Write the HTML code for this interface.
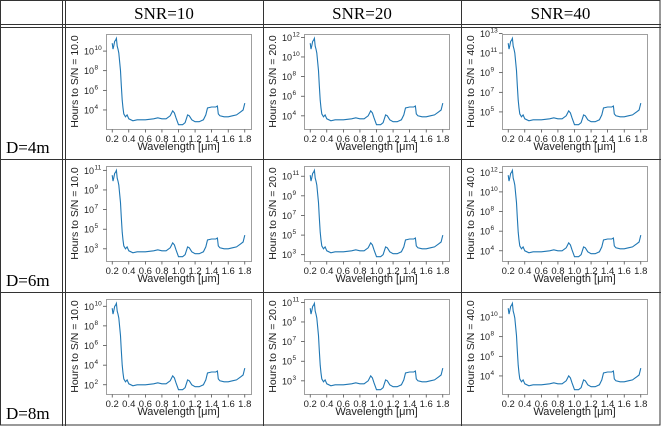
<!DOCTYPE html>
<html><head><meta charset="utf-8">
<style>
html,body{margin:0;padding:0;background:#fff;}
#wrap{position:relative;width:661px;height:426px;overflow:hidden;}
svg{position:absolute;left:0;top:0;}
</style></head>
<body>
<div id="wrap">
<svg id="s" width="661" height="426" xmlns="http://www.w3.org/2000/svg"></svg>
</div>
<script>
const wavelengths=[0.20,0.21,0.22,0.23,0.24,0.25,0.26,0.27,0.28,0.30,0.31,0.32,0.33,0.34,0.36,0.38,0.40,0.45,0.5,0.6,0.7,0.75,0.8,0.85,0.9,0.93,0.95,0.97,1.0,1.05,1.08,1.11,1.13,1.16,1.2,1.25,1.3,1.33,1.35,1.4,1.45,1.47,1.48,1.5,1.55,1.6,1.65,1.7,1.75,1.78,1.8];
const logHours=[10.8,10.2,10.6,11.0,11.1,11.3,10.5,10.2,9.8,8.0,6.5,5.0,4.2,3.6,3.3,3.5,3.1,2.9,3.0,3.0,3.1,3.2,3.1,3.1,3.4,3.9,3.7,3.2,2.5,2.5,2.7,3.5,3.4,3.0,2.8,2.8,3.0,3.5,4.2,4.3,4.3,4.4,3.6,3.4,3.3,3.3,3.4,3.5,3.8,4.0,4.7];
const snrLabels=["SNR=10","SNR=20","SNR=40"];
const snrValues=["10.0","20.0","40.0"];
const diameters=["D=4m","D=6m","D=8m"];
const offsets=[[0,0.6,1.2],[-0.3,0.3,0.9],[-1.0,-0.4,0.1]];
const yTicks=[[[4,6,8,10],[4,6,8,10,12],[5,7,9,11,13]],[[3,5,7,9,11],[3,5,7,9,11],[4,6,8,10,12]],[[2,4,6,8,10],[3,5,7,9,11],[4,6,8,10]]];
const xTicks=[0.2,0.4,0.6,0.8,1.0,1.2,1.4,1.6,1.8];

const NS="http://www.w3.org/2000/svg";
const svg=document.getElementById('s');
function mk(tag,attrs,parent){const e=document.createElementNS(NS,tag);for(const k in attrs)e.setAttribute(k,attrs[k]);(parent||svg).appendChild(e);return e;}
const colX=[65,263,461,660];
const rowY=[27,159,292,425];
const ln={stroke:'#333','stroke-width':1};
let L;
L=mk('rect',{x:0.5,y:0.5,width:659.5,height:424.5,fill:'none',stroke:'#333'});

[62.5,65.5,263.5,461.5].forEach(x=>{L=mk('line',Object.assign({x1:x,y1:0,x2:x,y2:426},ln));});
[24.5,27.5,159.5,292.5].forEach(y=>{L=mk('line',Object.assign({x1:0,y1:y,x2:661,y2:y},ln));});
snrLabels.forEach((t,i)=>{const e=mk('text',{x:(colX[i]+colX[i+1])/2,y:19,'text-anchor':'middle','font-family':'Liberation Serif, serif','font-size':17,fill:'#000'});e.textContent=t;
});
diameters.forEach((t,i)=>{const e=mk('text',{x:6,y:rowY[i+1]-6,'font-family':'Liberation Serif, serif','font-size':17,fill:'#000'});e.textContent=t;
});

const xmin=0.125,xmax=1.875;
for(let r=0;r<3;r++)for(let c=0;c<3;c++){
  const cx=colX[c]+1,cy=rowY[r]+1;
  const ax=cx+40,ay=cy+6,aw=145,ah=95;
  const g=mk('g',{});
  
  
  const vals=logHours.map(v=>v+offsets[r][c]);
  const dmin=Math.min(...vals),dmax=Math.max(...vals),rg=dmax-dmin;
  const ymin=dmin-0.05*rg,ymax=dmax+0.05*rg;
  const X=w=>ax+(w-xmin)/(xmax-xmin)*aw;
  const Y=v=>ay+ah-(v-ymin)/(ymax-ymin)*ah;
  let e=mk('rect',{x:ax+0.5,y:ay+0.5,width:aw,height:ah,fill:'#fff',stroke:'#888','stroke-width':0.8},g);
  
  let d='';
  wavelengths.forEach((w,i)=>{d+=(i?'L':'M')+X(w).toFixed(1)+','+Y(vals[i]).toFixed(1);});
  e=mk('path',{d:d,fill:'none',stroke:'#1f77b4','stroke-width':1.1},g);
  
  xTicks.forEach(t=>{const x=X(t);
    mk('line',{x1:x,y1:ay+ah+0.5,x2:x,y2:ay+ah+3.5,stroke:'#333','stroke-width':0.7},g);
    const tx=mk('text',{x:x,y:ay+ah+13,'text-anchor':'middle','font-family':'Liberation Sans, sans-serif','font-size':9.5,fill:'#222'},g);
    tx.textContent=t.toFixed(1);
    });
  yTicks[r][c].forEach(t=>{const y=Y(t);if(y<ay-2||y>ay+ah+2)return;
    mk('line',{x1:ax-3,y1:y,x2:ax+0.5,y2:y,stroke:'#333','stroke-width':0.7},g);
    const tx=mk('text',{x:ax-12,y:y+3.5,'text-anchor':'end','font-family':'Liberation Sans, sans-serif','font-size':9,fill:'#222'},g);
    tx.textContent='10';
    
    const sp=mk('text',{x:ax-11.5,y:y-1,'font-family':'Liberation Sans, sans-serif','font-size':6.5,fill:'#222'},g);
    sp.textContent=String(t);
    });
  e=mk('text',{x:ax+aw/2,y:cy+122,'text-anchor':'middle','font-family':'Liberation Sans, sans-serif','font-size':11,fill:'#222'},g);
  e.textContent='Wavelength [\u03bcm]';
  
  e=mk('text',{x:0,y:0,'text-anchor':'middle','font-family':'Liberation Sans, sans-serif','font-size':10.5,fill:'#222',transform:'translate('+(cx+12)+','+(ay+ah/2)+') rotate(-90)'},g);
  e.textContent='Hours to S/N = '+snrValues[c];
  
}
</script>
</body></html>
